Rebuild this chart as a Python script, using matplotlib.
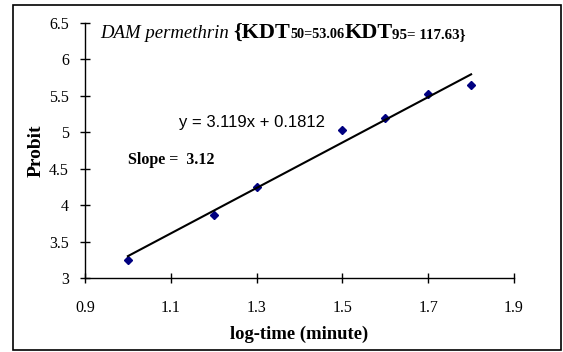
import matplotlib
matplotlib.use("Agg")
import matplotlib.pyplot as plt
from matplotlib.patches import Rectangle
import numpy as np

log_time = [1.0, 1.2, 1.3, 1.5, 1.6, 1.7, 1.8]
probit = [3.25, 3.87, 4.25, 5.03, 5.2, 5.52, 5.65]
slope = 3.119
intercept = 0.1812
fit_x = [1.0, 1.8]
xticks = [0.9, 1.1, 1.3, 1.5, 1.7, 1.9]
yticks = [3, 3.5, 4, 4.5, 5, 5.5, 6, 6.5]

serif = "Liberation Serif"
sans = "Liberation Sans"

fig = plt.figure(figsize=(5.63, 3.52), dpi=100)
fig.patches.append(Rectangle((13/563, 1-350/352), 548/563, 345/352, transform=fig.transFigure,
                             fill=False, edgecolor="black", linewidth=1.2, figure=fig))
ax = fig.add_axes([85/563, 1-278/352, 429/563, 255/352])
ax.set_xlim(0.9, 1.9)
ax.set_ylim(3, 6.5)
for s in ["top", "right"]:
    ax.spines[s].set_visible(False)
for s in ["left", "bottom"]:
    ax.spines[s].set_linewidth(1.0)
ax.set_xticks(xticks)
ax.set_yticks(yticks)
ax.set_xticklabels([f"{v:g}" for v in xticks], fontfamily=serif, fontsize=11.5)
ax.set_yticklabels([f"{v:g}" for v in yticks], fontfamily=serif, fontsize=11.5)
ax.tick_params(direction="inout", length=7, width=1.0)
ax.tick_params(axis="y", pad=8)
ax.tick_params(axis="x", pad=12)

ax.plot(log_time, probit, linestyle="none", marker="D", markersize=4.5, color="#000080")
fx = np.array(fit_x)
ax.plot(fx, slope*fx + intercept, color="black", linewidth=1.5)

ax.set_xlabel("log-time (minute)", fontfamily=serif, fontweight="bold", fontsize=13.4, labelpad=7)
ax.set_ylabel("Probit", fontfamily=serif, fontweight="bold", fontsize=14, labelpad=3.5)

ax.text(1.119, 5.141, f"y = {slope}x + {intercept}", fontfamily=sans, fontsize=12, ha="left", va="center")
ax.text(1.0, 4.62, "Slope =  3.12", fontfamily=serif, fontweight="bold", fontsize=11.5, ha="left", va="center")

# title pieces
fig.canvas.draw()
renderer = fig.canvas.get_renderer()
pieces = [
    ("DAM permethrin ", dict(fontstyle="italic", fontsize=13.5)),
    ("{KDT", dict(fontweight="bold", fontsize=16)),
    ("50=53.06", dict(fontweight="bold", fontsize=10.3)),
    ("KDT", dict(fontweight="bold", fontsize=16)),
    ("95= 117.63}", dict(fontweight="bold", fontsize=10.8)),
]
x0 = 100
ybase = 352 - 38
for txt, kw in pieces:
    t = fig.text(x0/563, ybase/352, txt, fontfamily=serif, ha="left", va="baseline", **kw)
    bb = t.get_window_extent(renderer)
    x0 = bb.x1 / fig.bbox.width * 563

fig.savefig("out.png", dpi=100)
